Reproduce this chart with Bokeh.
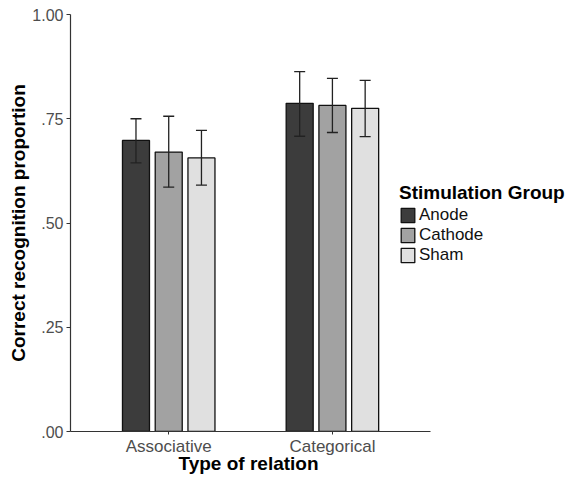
from bokeh.plotting import figure
from bokeh.models import (ColumnDataSource, Range1d, Whisker, FixedTicker,
                          CustomJSTickFormatter, Legend, LegendItem, TeeHead, Title)
from bokeh.embed import file_html
from bokeh.resources import INLINE

relations = ["Associative", "Categorical"]
groups = ["Anode", "Cathode", "Sham"]
anode = [0.698, 0.787]
cathode = [0.670, 0.782]
sham = [0.656, 0.775]
anode_lo = [0.644, 0.708]
anode_hi = [0.750, 0.863]
cathode_lo = [0.586, 0.717]
cathode_hi = [0.756, 0.847]
sham_lo = [0.591, 0.707]
sham_hi = [0.722, 0.842]
y_ticks = [0.0, 0.25, 0.5, 0.75, 1.0]

colors = ["#3c3c3c", "#a2a2a2", "#e0e0e0"]
offsets = [-0.2, 0.0, 0.2]
FONT = "Liberation Sans"

xpos = [i + 1 for i in range(len(relations))]
FRAME_W = 500
PX_PER_UNIT = 163.7

p = figure(x_range=Range1d(0.4, 0.4 + FRAME_W / PX_PER_UNIT),
           y_range=Range1d(0, 1), frame_width=FRAME_W, frame_height=417,
           output_backend="svg", toolbar_location=None,
           min_border_left=70, min_border_right=0, min_border_top=14,
           min_border_bottom=44)
p.outline_line_color = None
p.xgrid.visible = False
p.ygrid.visible = False

series = [(anode, anode_lo, anode_hi), (cathode, cathode_lo, cathode_hi),
          (sham, sham_lo, sham_hi)]
items = []
for name, (vals, lo, hi), col, off in zip(groups, series, colors, offsets):
    src = ColumnDataSource(dict(x=[x + off for x in xpos], val=vals, lo=lo, hi=hi))
    r = p.vbar(x="x", top="val", width=0.165, source=src, fill_color=col,
               line_color="#111111", line_width=1.3)
    items.append(LegendItem(label=name, renderers=[r]))
    w = Whisker(base="x", upper="hi", lower="lo", source=src,
                line_color="#222222", line_width=1.3, level="overlay",
                upper_head=TeeHead(size=11, line_color="#222222", line_width=1.3),
                lower_head=TeeHead(size=11, line_color="#222222", line_width=1.3))
    p.add_layout(w)

legend = Legend(items=items, title="Stimulation Group", location=(329, 166),
                title_text_font=FONT, title_text_font_style="bold",
                title_text_font_size="19px", title_text_color="#000000",
                label_text_font=FONT, label_text_font_size="17px",
                label_text_color="#111111", glyph_width=17, glyph_height=18,
                label_standoff=3, spacing=0, padding=0, margin=0,
                border_line_color=None, background_fill_alpha=0,
                title_standoff=1, label_height=18)
p.add_layout(legend)

for ax in (p.xaxis[0], p.yaxis[0]):
    ax.axis_line_color = "#333333"
    ax.axis_line_width = 1.2
    ax.major_tick_line_color = "#333333"
    ax.major_tick_out = 4
    ax.major_tick_in = 0
    ax.minor_tick_line_color = None
    ax.major_label_text_font = FONT
    ax.major_label_text_color = "#4d4d4d"
    ax.axis_label_text_font = FONT
    ax.axis_label_text_font_style = "bold"
    ax.axis_label_text_font_size = "19px"
    ax.axis_label_text_color = "#000000"

p.yaxis.ticker = FixedTicker(ticks=y_ticks)
p.yaxis.formatter = CustomJSTickFormatter(code="return tick.toFixed(2).replace(/^0/, '');")
p.yaxis.major_label_text_font_size = "16px"
p.yaxis.axis_label = "Correct recognition proportion"
p.yaxis.major_label_standoff = 3
p.yaxis.axis_label_standoff = 0

p.xaxis.ticker = FixedTicker(ticks=xpos)
p.xaxis.formatter = CustomJSTickFormatter(args=dict(labels=relations),
                                          code="return labels[Math.round(tick) - 1];")
p.xaxis.bounds = (xpos[0] - 0.6, xpos[-1] + 0.6)
p.xaxis.major_label_text_font_size = "17px"
p.xaxis.major_label_standoff = 2
p.xaxis.major_tick_out = 3

xtitle = Title(text="Type of relation", align="left", offset=108, standoff=-16,
               text_font=FONT, text_font_style="bold", text_font_size="19px",
               text_color="#000000")
p.add_layout(xtitle, "below")

open("out.html", "w").write(file_html(p, INLINE))
